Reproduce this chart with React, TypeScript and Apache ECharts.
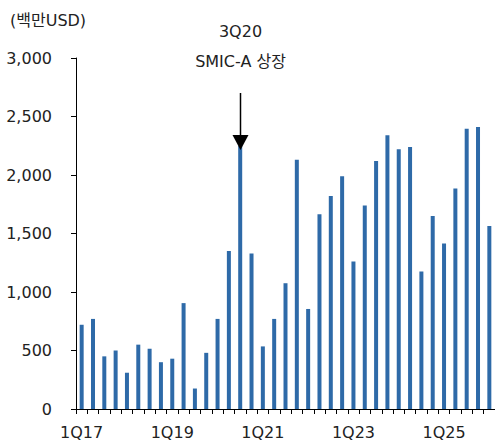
import React, { useEffect, useRef } from "react";
import * as echarts from "echarts";

const categories: string[] = [];
const years = [17, 18, 19, 20, 21, 22, 23, 24, 25];
years.forEach((y) => [1, 2, 3, 4].forEach((q) => categories.push(`${q}Q${y}`)));
categories.push("1Q26");

const revenue = [
  720, 770, 450, 500, 310, 550, 515, 400,
  430, 905, 175, 480, 770, 1350, 2250, 1330,
  535, 770, 1075, 2130, 855, 1665, 1820, 1990,
  1260, 1740, 2120, 2340, 2220, 2240, 1175, 1650,
  1415, 1885, 2395, 2410, 1565,
];

const yTicks = [0, 500, 1000, 1500, 2000, 2500, 3000];
const eventCategory = "3Q20";
const eventLines = ["3Q20", "SMIC-A 상장"];
const unitLabel = "(백만USD)";

const FONT = "'DejaVu Sans', 'Noto Sans CJK KR', sans-serif";
const TEXT = "#222";

export default function App() {
  const ref = useRef<HTMLDivElement>(null);
  useEffect(() => {
    if (!ref.current) return;
    const chart = echarts.init(ref.current, undefined, { renderer: "svg" });
    chart.setOption({
      animation: false,
      textStyle: { fontFamily: FONT },
      grid: { left: 76, right: -1, top: 58, bottom: 35, containLabel: false },
      xAxis: {
        type: "category",
        data: categories,
        boundaryGap: true,
        axisLine: { lineStyle: { color: "#000", width: 1 } },
        axisTick: { show: true, interval: 0, length: 5, lineStyle: { color: "#000" } },
        axisLabel: {
          interval: 7,
          margin: 15,
          color: TEXT,
          fontSize: 16,
          fontFamily: FONT,
        },
      },
      yAxis: {
        type: "value",
        min: yTicks[0],
        max: yTicks[yTicks.length - 1],
        interval: 500,
        splitLine: { show: false },
        axisLine: { show: true, lineStyle: { color: "#000", width: 1 } },
        axisTick: { show: true, length: 5, lineStyle: { color: "#000" } },
        axisLabel: {
          margin: 24,
          color: TEXT,
          fontSize: 16,
          fontFamily: FONT,
          formatter: (v: number) => v.toLocaleString("en-US"),
        },
      },
      series: [
        {
          type: "bar",
          data: revenue,
          barWidth: 4,
          itemStyle: { color: "#2e6aa8" },
        },
      ],
    });

    const [ax] = chart.convertToPixel({ gridIndex: 0 }, [eventCategory, 0]) as number[];
    const x = Math.round(ax) + 0.5;
    const topY = 93;
    const tipY = 150;
    const headH = 15;
    const headW = 8;
    chart.setOption({
      graphic: [
        {
          type: "text",
          left: 10,
          top: 12,
          style: { text: unitLabel, fontSize: 16, fontFamily: FONT, fill: TEXT },
        },
        {
          type: "text",
          x,
          y: 31,
          style: {
            text: eventLines[0],
            fontSize: 16,
            fontFamily: FONT,
            fill: TEXT,
            align: "center",
            verticalAlign: "middle",
          },
        },
        {
          type: "text",
          x,
          y: 61,
          style: {
            text: eventLines[1],
            fontSize: 16,
            fontFamily: FONT,
            fill: TEXT,
            align: "center",
            verticalAlign: "middle",
          },
        },
        {
          type: "line",
          shape: { x1: x, y1: topY, x2: x, y2: tipY - headH + 1 },
          style: { stroke: "#000", lineWidth: 1.5 },
          z: 100,
        },
        {
          type: "polygon",
          shape: {
            points: [
              [x - headW, tipY - headH],
              [x + headW, tipY - headH],
              [x, tipY],
            ],
          },
          style: { fill: "#000" },
          z: 100,
        },
      ],
    });

    return () => chart.dispose();
  }, []);
  return (
    <div
      ref={ref}
      style={{ position: "fixed", left: 0, top: 0, width: 495, height: 444, background: "#fff" }}
    />
  );
}
